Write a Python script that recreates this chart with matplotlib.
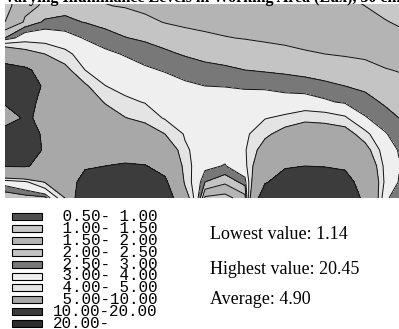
import numpy as np
import matplotlib
matplotlib.use("Agg")
import matplotlib.pyplot as plt
from matplotlib.patches import Rectangle

# ---- data -------------------------------------------------------------
# sample grid of the illuminance field (plan coordinates of the room)
x_grid = [5, 25, 45, 65, 85, 105, 125, 145, 165, 185, 205, 225, 245, 265,
          285, 305, 325, 345, 365, 385, 399]
y_grid = [-10, 6, 22, 38, 54, 70, 86, 102, 118, 134, 150, 166, 182, 198]

# one list per grid column (x), values from far side (top) to window wall (bottom)
col_005 = [1.25, 1.3, 1.5, 2.5, 7.0, 12.0, 13.0, 10.5, 8.0, 12.0, 13.0, 10.2, 3.3, 2.0]
col_025 = [1.8, 1.9, 2.05, 3.5, 5.6, 11.0, 12.0, 11.0, 10.5, 11.5, 12.0, 10.3, 3.8, 2.2]
col_045 = [1.97, 2.05, 2.6, 3.5, 5.0, 8.0, 9.5, 9.2, 9.2, 9.5, 9.6, 9.0, 5.1, 2.3]
col_065 = [2.2, 2.35, 2.6, 3.3, 4.3, 5.4, 6.5, 7.2, 7.6, 7.8, 8.0, 8.0, 7.0, 5.0]
col_085 = [2.25, 2.35, 2.48, 2.95, 3.5, 4.0, 5.2, 6.0, 6.8, 7.5, 8.5, 9.4, 12.0, 15.0]
col_105 = [1.9, 2.02, 2.35, 2.7, 3.15, 3.6, 4.02, 4.9, 5.8, 6.8, 8.0, 10.0, 13.0, 16.0]
col_125 = [1.85, 1.97, 2.25, 2.52, 2.95, 3.3, 3.7, 4.2, 5.05, 6.3, 7.8, 10.5, 13.5, 16.0]
col_145 = [1.8, 1.9, 2.1, 2.42, 2.75, 3.1, 3.5, 3.95, 4.6, 5.9, 7.5, 10.2, 13.0, 15.0]
col_165 = [1.75, 1.85, 1.98, 2.28, 2.6, 2.95, 3.3, 3.6, 3.9, 5.0, 6.5, 8.5, 10.8, 13.0]
col_185 = [1.72, 1.8, 1.92, 2.15, 2.45, 2.8, 3.1, 3.4, 3.65, 3.9, 4.15, 4.4, 4.7, 6.0]
col_205 = [1.7, 1.77, 1.88, 2.08, 2.35, 2.65, 3.0, 3.25, 3.45, 3.6, 3.5, 3.2, 2.5, 1.4]
col_225 = [1.68, 1.74, 1.85, 2.02, 2.3, 2.58, 2.98, 3.3, 3.55, 3.6, 3.35, 2.95, 2.1, 1.3]
col_245 = [1.66, 1.72, 1.82, 1.98, 2.25, 2.5, 2.92, 3.3, 3.6, 3.8, 3.9, 3.7, 2.7, 1.8]
col_265 = [1.64, 1.7, 1.8, 1.93, 2.2, 2.45, 2.85, 3.5, 3.95, 4.7, 5.7, 7.0, 9.5, 14.0]
col_285 = [1.62, 1.67, 1.77, 1.9, 2.12, 2.4, 2.78, 3.3, 4.2, 5.6, 7.2, 9.5, 12.5, 16.0]
col_305 = [1.6, 1.65, 1.74, 1.88, 2.04, 2.33, 2.72, 3.3, 4.6, 6.2, 8.0, 10.0, 13.5, 17.0]
col_325 = [1.57, 1.62, 1.71, 1.85, 2.0, 2.28, 2.6, 3.1, 4.5, 6.0, 7.8, 9.8, 13.0, 17.0]
col_345 = [1.48, 1.56, 1.67, 1.81, 1.96, 2.22, 2.5, 2.9, 4.15, 5.7, 7.3, 9.3, 12.0, 15.0]
col_365 = [1.4, 1.5, 1.62, 1.76, 1.92, 2.15, 2.38, 2.7, 3.05, 4.3, 5.6, 6.8, 7.6, 8.5]
col_385 = [1.3, 1.4, 1.52, 1.7, 1.86, 2.02, 2.2, 2.42, 2.72, 3.05, 3.4, 3.7, 3.8, 3.2]
col_399 = [1.14, 1.3, 1.46, 1.6, 1.82, 1.98, 2.12, 2.3, 2.5, 2.75, 2.95, 3.05, 2.95, 2.5]

levels = [0.5, 1.0, 1.5, 2.0, 2.5, 3.0, 4.0, 5.0, 10.0, 20.0, 25.0]
level_labels = [" 0.50- 1.00", " 1.00- 1.50", " 1.50- 2.00", " 2.00- 2.50",
                " 2.50- 3.00", " 3.00- 4.00", " 4.00- 5.00", " 5.00-10.00",
                "10.00-20.00", "20.00-"]
level_colors = ["#505050", "#c8c8c8", "#b4b4b4", "#c4c4c4", "#787878",
                "#efefef", "#e4e4e4", "#a8a8a8", "#3c3c3c", "#2c2c2c"]

stats_labels = ["Lowest value: 1.14", "Highest value: 20.45", "Average: 4.90"]
title = "Varying Illuminance Levels in Working Area (Lux), 30 cm"

# ---- figure -----------------------------------------------------------
W, H = 399, 329
fig = plt.figure(figsize=(W / 100, H / 100), dpi=100)
fig.patch.set_facecolor("white")

columns = [col_005, col_025, col_045, col_065, col_085, col_105, col_125,
           col_145, col_165, col_185, col_205, col_225, col_245, col_265,
           col_285, col_305, col_325, col_345, col_365, col_385, col_399]
Z = np.array(columns).T
X, Y = np.meshgrid(x_grid, y_grid)

# overlay axes in pixel coordinates for the legend
lg = fig.add_axes([0, 0, 1, 1])
lg.set_xlim(0, W)
lg.set_ylim(H, 0)
lg.axis("off")

ax = fig.add_axes([5 / W, 1 - 199 / H, 394 / W, 195 / H])
ax.contourf(X, Y, Z, levels=levels, colors=level_colors)
ax.contour(X, Y, Z, levels=levels[1:-1], colors="#111111", linewidths=0.7)
ax.set_xlim(5, 399)
ax.set_ylim(199, 4)
ax.axis("off")

# legend
for i, (lab, col) in enumerate(zip(level_labels, level_colors)):
    cy = 216.5 + 11.9 * i
    lg.add_patch(Rectangle((12, cy - 3.5), 30, 7, facecolor=col,
                           edgecolor="black", linewidth=0.8))
    lg.text(53, cy, lab, family="Liberation Mono", fontsize=11.4,
            va="center", ha="left", color="black")

for j, s in enumerate(stats_labels):
    lg.text(210, [239, 274, 304][j], s, family="Liberation Serif",
            fontsize=13, va="baseline", ha="left", color="black")

fig.text(4 / W, 1 - 1.5 / H, title, family="Liberation Serif",
         fontweight="bold", fontsize=11.5, va="baseline", ha="left")

fig.savefig("out.png", dpi=100)
